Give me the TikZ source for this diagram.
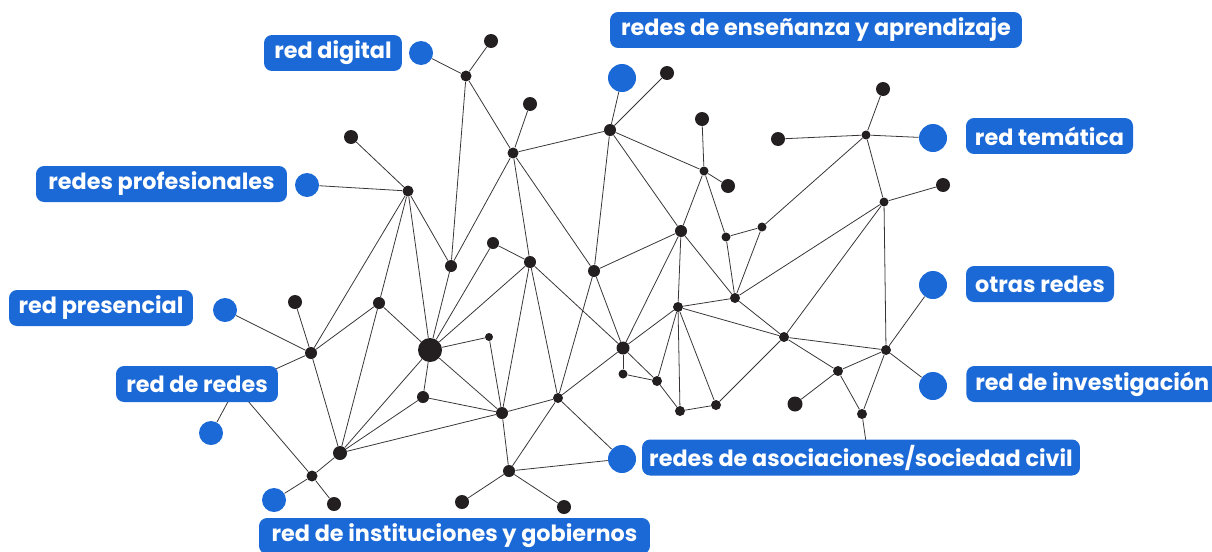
\documentclass[tikz,border=0pt]{standalone}
\usepackage{fontspec}
\setmainfont{Poppins}
\usetikzlibrary{backgrounds}
\definecolor{netblue}{HTML}{1B69D7}
\definecolor{netdark}{HTML}{231F20}

\begin{document}
\begin{tikzpicture}[x=0.02cm,y=-0.02cm,
    knot/.style={circle,fill=netdark,inner sep=0pt,minimum size=#1*0.02cm},
    bknot/.style={circle,fill=netblue,inner sep=0pt,minimum size=#1*0.02cm},
    tag/.style={fill=netblue,text=white,rounded corners=0.16cm,minimum height=0.72cm,
        inner xsep=0pt,inner ysep=0pt,font=\bfseries\fontsize{12.7}{15}\selectfont},
    link/.style={draw=netdark!90,line width=0.45pt}]
    \useasboundingbox (0,0) rectangle (1212,551);
    \clip (0,0) rectangle (1212,551);

    \foreach \n/\x/\y/\s in {n1/466/76/11, n2/491/41/14, n3/513/153/11, n4/530/104/14,
        n5/351/137/14, n6/408/191/11, n7/610/130/12, n8/667/73/14, n9/702/119/14,
        n10/704/171/9, n11/728/186/14, n12/681/231/12, n13/778/139/14, n14/866/135/9,
        n15/883/89/14, n16/884/202/9, n17/943/185/14, n18/762/227/9, n19/726/237/9,
        n20/594/271/12, n21/735/298/10, n22/678/307/10, n23/784/337/10, n24/886/350/10,
        n25/623/348/13, n26/623/374/9, n27/657/381/10, n28/838/371/10, n29/680/411/10,
        n30/716/405/10, n31/795/404/15, n32/862/414/10, n33/558/398/10, n34/530/262/12,
        n35/295/302/14, n36/311/353/12, n37/379/303/12, n38/451/266/12, n39/493/243/12,
        n40/489/337/8, n41/423/397/12, n42/502/413/12, n43/340/453/14, n44/312/476/11,
        n45/509/471/12, n46/334/504/14, n47/462/502/14, n48/564/507/14, big/430/350/24}
        {\node[knot=\s] (\n) at (\x,\y) {};}

    \foreach \n/\x/\y/\s in {digital/421/53/24, ensenanza/622/78/28, tematica/933/138/28,
        profesional/307/185/24, presencial/225/310/24, otras/933/285/28,
        investigacion/933/386/28, redes/211/433/24, instituciones/274/500/24,
        asociaciones/622/459/28}
        {\node[bknot=\s] (\n) at (\x,\y) {};}

    \coordinate (redeshub) at (236,387);
    \coordinate (asocend) at (868,456);

    \begin{scope}[on background layer]
        \foreach \a/\b in {digital/n1, n1/n2, n1/n3, n1/n38,
            n3/n4, n3/n7, n3/n38, n3/n34, n3/n20,
            n5/n6, profesional/n6, n6/n36, n6/n37, n6/big, n6/n38,
            n7/ensenanza, n7/n8, n7/n10, n7/n20, n7/n12,
            n9/n10, n10/n11, n10/n12, n10/n19,
            n13/n14, n14/n15, n14/tematica, n14/n18, n14/n16,
            n16/n17, n16/n21, n16/n23, n16/n24,
            n18/n19, n18/n21, n19/n21,
            n20/n12, n20/n25, n20/n33,
            n12/n25, n12/n22, n12/n21,
            n22/n21, n22/n25, n22/n23, n22/n27, n22/n29, n22/n30,
            n21/n23, n23/n24, n23/n28, n23/n30,
            n24/otras, n24/investigacion, n24/n28, n24/n32,
            n28/n31, n28/n32, n32/asocend,
            n25/n26, n26/n27, n25/n27, n27/n29, n29/n30, n25/n33,
            n34/n39, n34/n42, n34/n33, n34/n25,
            big/n37, big/n38, big/n39, big/n34, big/n40, big/n41, big/n42, big/n43,
            n40/n42, n41/n42, n41/n43, n42/n43, n42/n33, n42/n45,
            n33/n45, n33/asociaciones, n45/asociaciones, n45/n47, n45/n48,
            n35/n36, presencial/n36, n36/n37, n36/n43, n37/n43,
            redeshub/n36, redeshub/redes, redeshub/n44,
            n44/n43, n44/instituciones, n44/n46}
            {\draw[link] (\a) -- (\b);}
    \end{scope}

    \node[tag,minimum width=2.76cm] (lDigital) at (333,53) {red digital};
    \node[tag,minimum width=8.24cm] (lEnsenanza) at (816,30) {redes de enseñanza y aprendizaje};
    \node[tag,minimum width=3.34cm] (lTematica) at (1049.5,136) {red temática};
    \node[tag,minimum width=2.96cm] (lOtras) at (1040,284) {otras redes};
    \node[tag,anchor=west,inner xsep=0.18cm] (lInvestigacion) at (966,384) {red de investigación};
    \node[tag,minimum width=5.02cm] (lProfesional) at (161.5,184) {redes profesionales};
    \node[tag,minimum width=3.68cm] (lPresencial) at (101,308) {red presencial};
    \node[tag,minimum width=3.24cm] (lRedes) at (197,384) {red de redes};
    \node[tag,minimum width=7.82cm] (lInstituciones) at (454.5,536) {red de instituciones y gobiernos};
    \node[tag,minimum width=8.76cm] (lAsociaciones) at (861,457.5) {redes de asociaciones/sociedad civil};
\end{tikzpicture}
\end{document}
